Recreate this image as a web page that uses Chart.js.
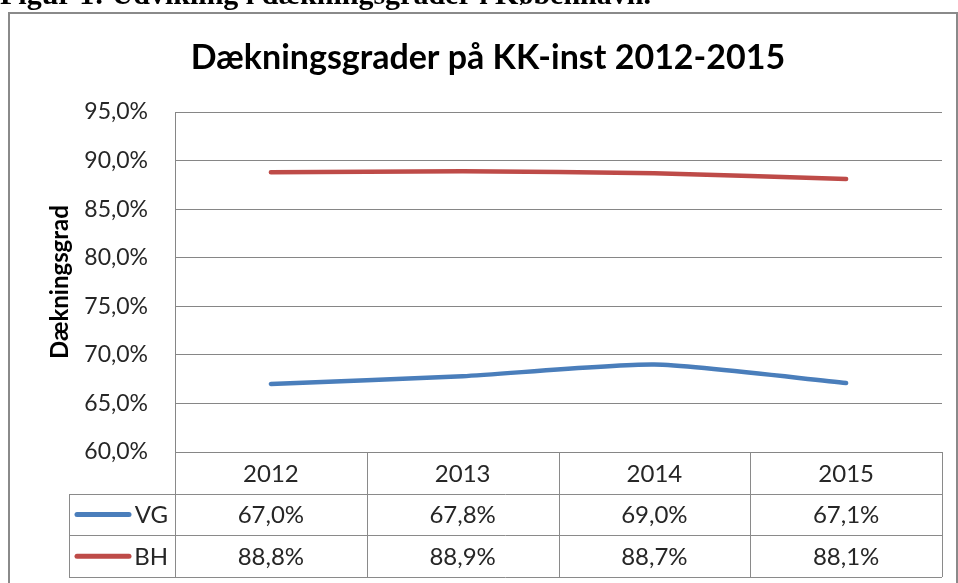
<!DOCTYPE html>
<html>
<head>
<meta charset="utf-8">
<script src="https://cdn.jsdelivr.net/npm/chart.js@4/dist/chart.umd.min.js"></script>
<style>
  html, body { margin: 0; padding: 0; background: #fff; }
  #wrap { width: 958px; height: 583px; }
</style>
</head>
<body>
<div id="wrap"><canvas id="chart" width="958" height="583"></canvas></div>
<script>
// Chart data
var years = ['2012', '2013', '2014', '2015'];
var vgValues = [67.0, 67.8, 69.0, 67.1];
var bhValues = [88.8, 88.9, 88.7, 88.1];
var seriesNames = ['VG', 'BH'];
var yTicks = [60, 65, 70, 75, 80, 85, 90, 95];

var chartTitle = 'Dækningsgrader på KK-inst 2012-2015';
var caption = 'Figur 1: Udvikling i dækningsgrader i København.';
var yTitle = 'Dækningsgrad';

var font = 'Lato';
var textColor = '#262626';
var lineGray = '#8a8a8a';

function pct(v) {
    return v.toFixed(1).replace('.', ',') + '%';
}

// Draws the caption, frame, title and the data table under the plot
var extras = {
    id: 'extras',
    beforeDraw: function(chart) {
        var ctx = chart.ctx;
        ctx.save();
        ctx.fillStyle = '#fff';
        ctx.fillRect(0, 0, chart.width, chart.height);
        ctx.restore();
    },
    afterDraw: function(chart) {
        var ctx = chart.ctx;
        var area = chart.chartArea;
        var xs = chart.scales.x;
        ctx.save();

        // caption above the frame (cut off by the page top)
        ctx.fillStyle = '#000';
        ctx.font = 'bold 30px "Liberation Serif"';
        ctx.textAlign = 'left';
        ctx.textBaseline = 'alphabetic';
        ctx.fillText(caption, 0, 4);

        // outer frame
        ctx.strokeStyle = lineGray;
        ctx.lineWidth = 2;
        ctx.strokeRect(9, 13, 948, 600);

        // chart title
        ctx.fillStyle = '#000';
        ctx.font = 'bold 34px ' + font;
        ctx.textAlign = 'center';
        ctx.textBaseline = 'middle';
        ctx.fillText(chartTitle, 488, 58);

        // data table
        var centers = years.map(function(_, i) { return xs.getPixelForValue(i); });
        var half = (centers[1] - centers[0]) / 2;
        var rowH = 41.7;
        var top = area.bottom;
        var legendLeft = 69;
        var rows = [top, top + rowH, top + 2 * rowH, top + 3 * rowH];

        ctx.strokeStyle = lineGray;
        ctx.lineWidth = 1;
        ctx.beginPath();
        for (var r = 1; r < rows.length; r++) {
            ctx.moveTo(legendLeft, Math.round(rows[r]) + 0.5);
            ctx.lineTo(area.right, Math.round(rows[r]) + 0.5);
        }
        ctx.moveTo(legendLeft + 0.5, Math.round(rows[1]));
        ctx.lineTo(legendLeft + 0.5, Math.round(rows[3]));
        for (var c = 0; c <= centers.length; c++) {
            var bx = c < centers.length ? centers[c] - half : centers[c - 1] + half;
            ctx.moveTo(Math.round(bx) + 0.5, top);
            ctx.lineTo(Math.round(bx) + 0.5, Math.round(rows[3]));
        }
        ctx.stroke();

        ctx.fillStyle = textColor;
        ctx.font = '24px ' + font;
        ctx.textAlign = 'center';
        ctx.textBaseline = 'middle';
        years.forEach(function(y, i) {
            ctx.fillText(y, centers[i], (rows[0] + rows[1]) / 2 + 1);
        });
        chart.data.datasets.forEach(function(ds, d) {
            var cy = (rows[d + 1] + rows[d + 2]) / 2 + 1;
            ds.data.forEach(function(v, i) {
                ctx.fillText(pct(v), centers[i], cy);
            });
            // legend key
            ctx.strokeStyle = ds.borderColor;
            ctx.lineWidth = 5;
            ctx.lineCap = 'round';
            ctx.beginPath();
            ctx.moveTo(77, cy - 1);
            ctx.lineTo(129, cy - 1);
            ctx.stroke();
            ctx.textAlign = 'right';
            ctx.fillText(ds.label, 168, cy);
            ctx.textAlign = 'center';
        });

        ctx.restore();
    }
};

var ctx = document.getElementById('chart').getContext('2d');
var chart = new Chart(ctx, {
    type: 'line',
    data: {
        labels: years,
        datasets: [{
            label: seriesNames[0],
            data: vgValues,
            borderColor: '#4a7ebb',
            borderWidth: 4.5,
            borderCapStyle: 'round',
            pointRadius: 0,
            tension: 0.2
        }, {
            label: seriesNames[1],
            data: bhValues,
            borderColor: '#be4b48',
            borderWidth: 4.5,
            borderCapStyle: 'round',
            pointRadius: 0,
            tension: 0.2
        }]
    },
    options: {
        responsive: false,
        animation: false,
        layout: {
            padding: { left: 0, right: 16, top: 112, bottom: 131 }
        },
        plugins: {
            legend: { display: false },
            title: { display: false },
            tooltip: { enabled: false }
        },
        scales: {
            x: {
                display: false,
                offset: true
            },
            y: {
                min: yTicks[0],
                max: yTicks[yTicks.length - 1],
                afterFit: function(scale) { scale.width = 175; },
                afterBuildTicks: function(scale) {
                    scale.ticks = yTicks.map(function(v) { return { value: v }; });
                },
                ticks: {
                    padding: 27,
                    color: textColor,
                    font: { family: font, size: 23 },
                    callback: function(v) { return pct(v); }
                },
                grid: {
                    color: '#868686',
                    lineWidth: 1,
                    drawTicks: false
                },
                border: { display: true, color: '#868686' },
                title: {
                    display: true,
                    text: yTitle,
                    color: '#000',
                    font: { family: font, size: 24, weight: 'bold' },
                    padding: { top: 46, bottom: 0 }
                }
            }
        }
    },
    plugins: [extras]
});
</script>
</body>
</html>
